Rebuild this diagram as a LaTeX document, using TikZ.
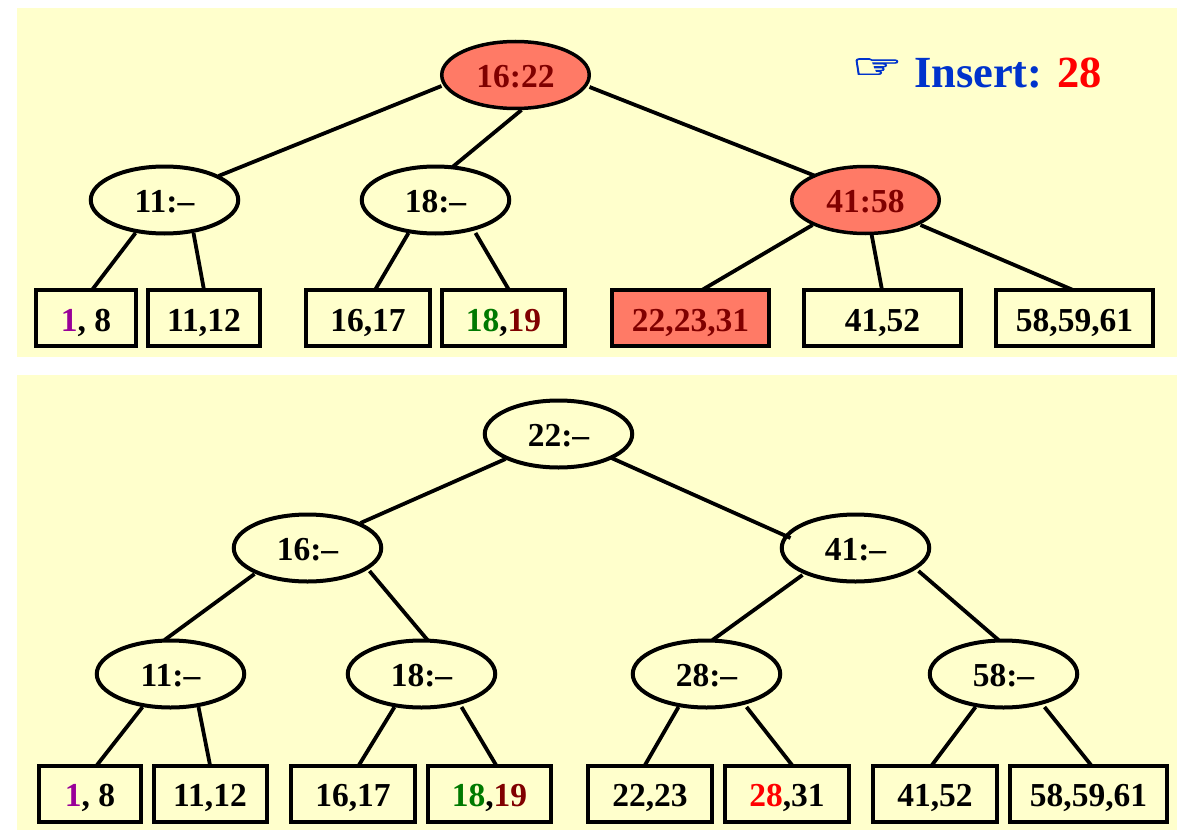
\documentclass[tikz,border=0pt]{standalone}
\usepackage{fontspec}
\setmainfont{Liberation Serif}
\newfontfamily\symfont[FakeBold=2.4,FakeStretch=1.7]{DejaVu Sans}
\usetikzlibrary{shapes.geometric}
\definecolor{panel}{HTML}{FFFFCC}
\definecolor{salmon}{HTML}{FF7A66}
\definecolor{darkred}{HTML}{800000}
\definecolor{dgreen}{HTML}{007A00}
\definecolor{purp}{HTML}{990099}
\definecolor{insblue}{HTML}{0033CC}
\tikzset{
  x=1pt,y=-1pt,
  every node/.style={font=\fontsize{33.5}{36}\selectfont\bfseries,inner sep=0pt,outer sep=0pt,text height=24.6pt,text depth=0pt},
  panelbox/.style={fill=panel,draw=none},
  ell/.style={ellipse,draw=black,line width=4pt,fill=panel,minimum width=147.5pt,minimum height=67pt,xshift=0.5pt},
  hotell/.style={ell,fill=salmon,text=darkred,line width=3.5pt},
  leaf/.style={rectangle,draw=black,line width=4pt,fill=panel,minimum height=56pt,text height=26.6pt},
  hotleaf/.style={leaf,fill=salmon,text=darkred},
  link/.style={draw=black,line width=3.8pt},
}
\newcommand{\lnk}[6]{\draw[link] ([shift={(#2,#3)}]#1.center) -- ([shift={(#5,#6)}]#4.center);}
\begin{document}
\begin{tikzpicture}
\useasboundingbox (0,0) rectangle (1196,840);
\fill[panelbox] (17,8) rectangle (1177,357);
\fill[panelbox] (17,375) rectangle (1177,830);
% top tree
\node[hotell] (r) at (515,75) {16:22};
\node[ell] (a) at (164,200) {11:--};
\node[ell] (b) at (435,200) {18:--};
\node[hotell] (c) at (865,200) {41:58};
\node[leaf,minimum width=100pt] (a1) at (86,318) {\textcolor{purp}{1}, 8};
\node[leaf,minimum width=112pt] (a2) at (204,318) {11,12};
\node[leaf,minimum width=124pt] (b1) at (368,318) {16,17};
\node[leaf,minimum width=123pt] (b2) at (503.5,318) {\textcolor{dgreen}{18},\textcolor{darkred}{19}};
\node[hotleaf,minimum width=157pt] (c1) at (690.5,318) {22,23,31};
\node[leaf,minimum width=157pt] (c2) at (882.5,318) {41,52};
\node[leaf,minimum width=157pt] (c3) at (1074.5,318) {58,59,61};
\lnk{r}{-74}{11}{a}{54}{-24}
\lnk{r}{6}{35}{b}{17}{-33}
\lnk{r}{74}{12}{c}{-50}{-24}
\lnk{a}{-29}{33}{a1}{6}{-28}
\lnk{a}{29}{33}{a2}{0}{-28}
\lnk{b}{-27}{33}{b1}{7}{-28}
\lnk{b}{40}{33}{b2}{5.5}{-28}
\lnk{c}{-53}{25}{c1}{11.5}{-28}
\lnk{c}{6}{34}{c2}{-0.5}{-28}
\lnk{c}{55}{25}{c3}{-1.5}{-28}
% insert label
\node[anchor=base west,text=insblue,font=\fontsize{34}{40}\selectfont\symfont,text height=0pt] (hand) at (851,78) {☞};
\node[anchor=base west,font=\fontsize{44.5}{46}\selectfont\bfseries,text height=0pt] (ins) at (914,88) {\textcolor{insblue}{Insert:} \textcolor{red}{28}};
% bottom tree
\node[ell] (R) at (558,434) {22:--};
\node[ell] (L1) at (307,548) {16:--};
\node[ell] (L2) at (855,548) {41:--};
\node[ell] (A) at (170,674) {11:--};
\node[ell] (B) at (421,674) {18:--};
\node[ell] (C) at (706,674) {28:--};
\node[ell] (D) at (1003,674) {58:--};
\node[leaf,minimum width=102pt] (A1) at (90,793.5) {\textcolor{purp}{1}, 8};
\node[leaf,minimum width=113pt] (A2) at (210,793.5) {11,12};
\node[leaf,minimum width=124pt] (B1) at (353,793.5) {16,17};
\node[leaf,minimum width=123pt] (B2) at (489.5,793.5) {\textcolor{dgreen}{18},\textcolor{darkred}{19}};
\node[leaf,minimum width=124pt] (C1) at (650,793.5) {22,23};
\node[leaf,minimum width=124pt] (C2) at (787,793.5) {\textcolor{red}{28},31};
\node[leaf,minimum width=124pt] (D1) at (935,793.5) {41,52};
\node[leaf,minimum width=157pt] (D2) at (1088.5,793.5) {58,59,61};
\lnk{R}{-53}{25}{L1}{53}{-25}
\lnk{R}{53}{24}{L2}{-65}{-10}
\lnk{L1}{-53}{26}{A}{-6}{-34}
\lnk{L1}{62}{23}{B}{6}{-34}
\lnk{L2}{-53}{27}{C}{6}{-34}
\lnk{L2}{63}{23}{D}{-5}{-34}
\lnk{A}{-28}{33}{A1}{7}{-28.5}
\lnk{A}{28}{33}{A2}{0}{-28.5}
\lnk{B}{-27}{33}{B1}{6}{-28.5}
\lnk{B}{40}{33}{B2}{6.5}{-28.5}
\lnk{C}{-28}{33}{C1}{-5}{-28.5}
\lnk{C}{40}{33}{C2}{5}{-28.5}
\lnk{D}{-28}{33}{D1}{-3}{-28.5}
\lnk{D}{41}{33}{D2}{2.5}{-28.5}
\end{tikzpicture}
\end{document}
